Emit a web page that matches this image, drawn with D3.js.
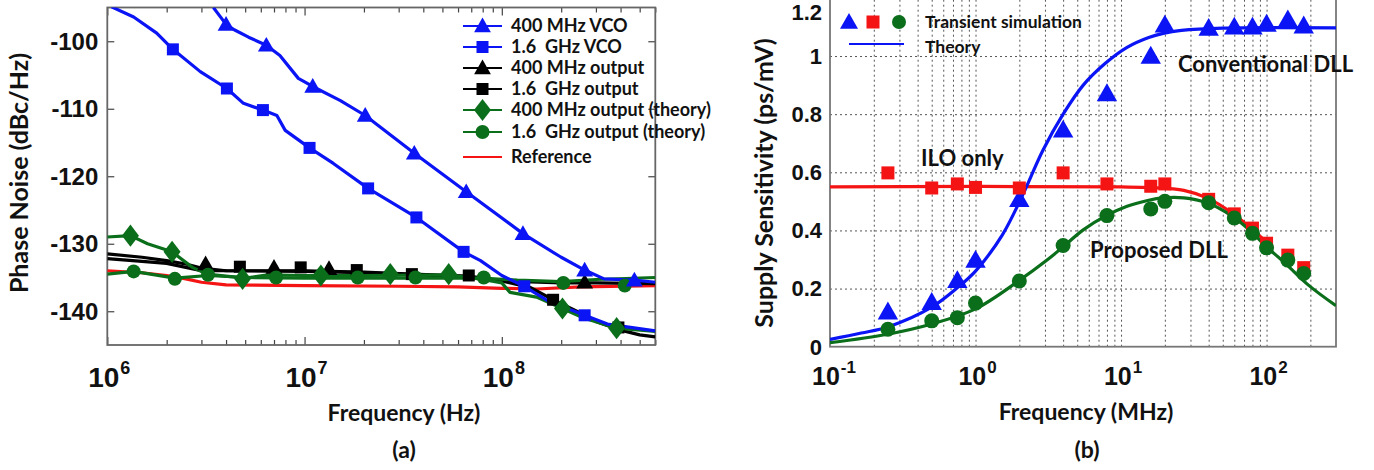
<!DOCTYPE html>
<html><head><meta charset="utf-8">
<script src="https://cdn.jsdelivr.net/npm/d3@7"></script>
<style>
html,body{margin:0;padding:0;background:#fff;}
svg{display:block;}
.lbl{font-family:Lato,"Open Sans",sans-serif;font-weight:bold;fill:#111;}
.tk{font-family:"Liberation Sans",Arial,sans-serif;font-weight:bold;fill:#111;}
</style></head>
<body>
<svg id="c" width="1374" height="470"></svg>
<script>
// ---------- Panel (a) data: phase noise (dBc/Hz) vs frequency (Hz) ----------
const vco400Line = [[3.45e6,-95],[4.0e6,-97.5],[4.4e6,-98.3],[5.2e6,-99.4],[6.4e6,-100.6],[7.5e6,-102.1],[9.3e6,-105.5],[1.1e7,-106.7],[1.52e7,-108.8],[2.03e7,-111.0],[3.6e7,-116.6],[6.6e7,-122.3],[1.28e8,-128.5],[2.0e8,-132.0],[2.63e8,-133.9],[3.3e8,-135.2],[4.7e8,-135.4],[6e8,-135.7]];
const vco400Marks = [[4.0e6,-97.5],[6.4e6,-100.6],[1.1e7,-106.7],[2.03e7,-111.0],[3.6e7,-116.6],[6.6e7,-122.3],[1.28e8,-128.5],[2.63e8,-133.9],[4.7e8,-135.4]];
const vco1600Line = [[1.05e6,-94.9],[1.36e6,-96.4],[1.78e6,-98.8],[2.15e6,-101.2],[2.96e6,-104.5],[4.04e6,-107.0],[4.9e6,-109.2],[6.15e6,-110.2],[7.24e6,-111.0],[7.98e6,-113.2],[1.06e7,-115.8],[1.4e7,-118.1],[2.1e7,-121.8],[3.69e7,-126.1],[6.4e7,-131.2],[7.8e7,-132.5],[1.0e8,-134.7],[1.3e8,-136.3],[1.7e8,-138.4],[2.63e8,-140.6],[3.43e8,-141.9],[6e8,-142.9]];
const vco1600Marks = [[2.15e6,-101.2],[4.04e6,-107.0],[6.15e6,-110.2],[1.06e7,-115.8],[2.1e7,-121.8],[3.69e7,-126.1],[6.4e7,-131.2],[1.3e8,-136.3],[2.63e8,-140.6]];
const out400Line = [[1e6,-131.5],[1.5e6,-132.0],[2e6,-132.5],[2.5e6,-133.0],[3e6,-133.6],[4e6,-134.0],[1e7,-134.1],[2e7,-134.3],[4e7,-134.6],[7e7,-135.0],[1e8,-135.5],[2e8,-135.8],[3e8,-135.8],[6e8,-135.9]];
const out400Marks = [[3.15e6,-133.0],[7.0e6,-133.5],[1.33e7,-133.7],[2.63e8,-135.7]];
const out1600Line = [[1e6,-132.2],[1.5e6,-132.6],[2e6,-132.9],[2.5e6,-133.5],[3e6,-134.0],[5e6,-134.0],[1e7,-134.0],[2e7,-134.2],[3.5e7,-134.5],[6.8e7,-134.8],[1e8,-135.5],[1.4e8,-136.5],[1.82e8,-138.3],[2.4e8,-140.0],[3e8,-141.5],[4e8,-142.8],[5e8,-143.5],[6e8,-143.8]];
const out1600Marks = [[4.7e6,-133.4],[9.56e6,-133.5],[1.84e7,-133.9],[3.5e7,-134.5],[6.8e7,-134.7],[1.82e8,-138.3],[3.9e8,-142.4]];
const th400Line = [[1e6,-129.0],[1.31e6,-128.8],[1.6e6,-130.0],[2.13e6,-131.2],[2.7e6,-133.5],[3.2e6,-134.5],[4e6,-134.8],[5e6,-135.1],[6.5e6,-134.6],[1e7,-134.7],[2e7,-134.7],[5.4e7,-134.6],[8e7,-135.3],[1.0e8,-135.8],[1.1e8,-137.2],[1.5e8,-137.9],[2.03e8,-139.6],[2.6e8,-141.0],[3.82e8,-142.5],[6e8,-143.0]];
const th400Marks = [[1.31e6,-128.8],[2.13e6,-131.2],[4.85e6,-135.2],[1.21e7,-134.7],[2.72e7,-134.5],[5.38e7,-134.5],[2.03e8,-139.6],[3.82e8,-142.5]];
const th1600Line = [[1e6,-134.5],[1.36e6,-134.1],[2.2e6,-135.1],[3.24e6,-134.7],[5e6,-135.0],[1e7,-135.1],[3e7,-135.1],[8e7,-135.1],[1.2e8,-135.4],[2e8,-135.6],[3e8,-135.3],[6e8,-135.0]];
const th1600Marks = [[1.36e6,-134.1],[2.2e6,-135.2],[3.24e6,-134.6],[7.17e6,-135.0],[1.86e7,-135.0],[3.65e7,-135.0],[8.1e7,-135.0],[2.05e8,-135.8],[4.2e8,-136.2]];
const refLine = [[1e6,-134.0],[1.5e6,-134.3],[2e6,-134.7],[2.5e6,-135.2],[3e6,-135.7],[4e6,-136.1],[1e7,-136.2],[3e7,-136.3],[6e7,-136.4],[1e8,-136.6],[1.5e8,-136.7],[2.5e8,-136.4],[6e8,-136.2]];
const aYTicks = [-100,-110,-120,-130,-140];
const aXTicks = [6,7,8];
const aLegend = ["400 MHz VCO","1.6\u00a0 GHz VCO","400 MHz output","1.6\u00a0 GHz output","400 MHz output (theory)","1.6\u00a0 GHz output (theory)","Reference"];

// ---------- Panel (b) data: supply sensitivity (ps/mV) vs frequency (MHz) ----------
const simFreq = [0.25,0.5,0.75,1,2,4,8,16,20,40,60,80,100,140,180];
const convSim = [0.12,0.153,0.228,0.298,0.507,0.746,0.871,1.0,1.107,1.096,1.10,1.10,1.11,1.125,1.104];
const iloSim  = [0.598,0.546,0.56,0.548,0.546,0.598,0.56,0.552,0.56,0.507,0.457,0.408,0.356,0.315,0.272];
const propSim = [0.06,0.089,0.10,0.15,0.226,0.348,0.451,0.474,0.50,0.495,0.443,0.39,0.34,0.298,0.252];
const convTheory = [[0.1,0.025],[0.164,0.047],[0.25,0.068],[0.5,0.136],[0.76,0.205],[1,0.26],[1.53,0.385],[2.1,0.52],[2.9,0.675],[4,0.80],[5.5,0.90],[7.8,0.975],[11,1.03],[15.5,1.064],[19.5,1.078],[26,1.088],[50,1.096],[300,1.097]];
const iloTheory = [[0.1,0.55],[10,0.55],[20,0.545],[27,0.538],[39,0.512],[58,0.46],[78,0.408],[100,0.36]];
const propTheory = [[0.1,0.014],[0.25,0.043],[0.5,0.078],[1,0.13],[2,0.228],[3.1,0.298],[3.9,0.339],[5.5,0.402],[7.8,0.449],[11,0.483],[15.5,0.504],[19.4,0.512],[27,0.512],[39,0.495],[58,0.449],[78,0.397],[97,0.35],[135,0.286],[195,0.211],[300,0.141]];
const bYTicks = [0,0.2,0.4,0.6,0.8,1,1.2];
const bXTicks = [-1,0,1,2];

const BLUE="#0a14f5", RED="#f51414", GREEN="#0b6e1a", BLACK="#000";
const svg = d3.select("#c");
const defs = svg.append("defs");

function marker(g, type, x, y, s, color){
  if(type==="tri"){
    g.append("path").attr("d",`M${x},${y-s*0.6}L${x+s*0.6},${y+s*0.45}L${x-s*0.6},${y+s*0.45}Z`).attr("fill",color);
  } else if(type==="sq"){
    g.append("rect").attr("x",x-s/2).attr("y",y-s/2).attr("width",s).attr("height",s).attr("fill",color);
  } else if(type==="dia"){
    g.append("path").attr("d",`M${x},${y-s*0.65}L${x+s*0.5},${y}L${x},${y+s*0.65}L${x-s*0.5},${y}Z`).attr("fill",color);
  } else {
    g.append("circle").attr("cx",x).attr("cy",y).attr("r",s/2).attr("fill",color);
  }
}

// ================= Panel (a) =================
{
  const L=107.3, R=655.3, T=7.5, B=345;
  const x = d3.scaleLog().domain([1e6,6e8]).range([L,R]);
  const y = d3.scaleLinear().domain([-145,-95]).range([B,T]);
  const g = svg.append("g");
  defs.append("clipPath").attr("id","clipA").append("rect").attr("x",L).attr("y",T).attr("width",R-L).attr("height",B-T);

  const minor = [];
  for(let e=6;e<=8;e++) for(let m=1;m<=9;m++){const v=m*Math.pow(10,e); if(v<=6e8) minor.push(v);}
  const axB = d3.axisBottom(x).tickValues(minor).tickFormat("").tickSizeOuter(0).tickSizeInner(-5);
  const axT = d3.axisTop(x).tickValues(minor).tickFormat("").tickSizeOuter(0).tickSizeInner(-5);
  const gb = g.append("g").attr("transform",`translate(0,${B})`).call(axB);
  const gt = g.append("g").attr("transform",`translate(0,${T})`).call(axT);
  [gb,gt].forEach(a=>{a.select(".domain").remove(); a.selectAll("line").attr("stroke","#444").attr("stroke-width",1.2);
    a.selectAll(".tick").filter(d=>Math.abs(Math.log10(d)-Math.round(Math.log10(d)))<1e-9).select("line").attr("y2",a===gb?-8:8);});
  const axL = d3.axisLeft(y).tickValues(aYTicks).tickFormat("").tickSizeOuter(0).tickSizeInner(-7);
  const axR = d3.axisRight(y).tickValues(aYTicks).tickFormat("").tickSizeOuter(0).tickSizeInner(-7);
  [g.append("g").attr("transform",`translate(${L},0)`).call(axL), g.append("g").attr("transform",`translate(${R},0)`).call(axR)]
    .forEach(a=>{a.select(".domain").remove(); a.selectAll("line").attr("stroke","#444").attr("stroke-width",1.2);});
  g.append("rect").attr("x",L).attr("y",T).attr("width",R-L).attr("height",B-T).attr("fill","none").attr("stroke","#666").attr("stroke-width",1.8);

  aYTicks.forEach(v=>{
    g.append("text").attr("class","tk").attr("x",L-9).attr("y",y(v)).attr("dy","0.36em").attr("text-anchor","end").attr("font-size",24).text(v);
  });
  aXTicks.forEach(e=>{
    const t = g.append("text").attr("class","tk").attr("x",x(Math.pow(10,e))+2).attr("y",387).attr("text-anchor","middle").attr("font-size",28);
    t.append("tspan").text("10");
    t.append("tspan").attr("font-size",18).attr("dy",-13).attr("dx",1).text(e);
  });

  const line = d3.line().x(d=>x(d[0])).y(d=>y(d[1]));
  const lg = g.append("g").attr("clip-path","url(#clipA)");
  const series = [
    {l:refLine, m:[], c:RED, t:null, s:0},
    {l:out400Line, m:out400Marks, c:BLACK, t:"tri", s:14},
    {l:out1600Line, m:out1600Marks, c:BLACK, t:"sq", s:12},
    {l:th1600Line, m:th1600Marks, c:GREEN, t:"circ", s:14},
    {l:th400Line, m:th400Marks, c:GREEN, t:"dia", s:17},
    {l:vco400Line, m:vco400Marks, c:BLUE, t:"tri", s:14},
    {l:vco1600Line, m:vco1600Marks, c:BLUE, t:"sq", s:12},
  ];
  series.forEach(s=>{
    lg.append("path").datum(s.l).attr("d",line).attr("fill","none").attr("stroke",s.c).attr("stroke-width",3.2).attr("stroke-linejoin","round");
  });
  series.forEach(s=>{ s.m.forEach(p=>marker(lg,s.t,x(p[0]),y(p[1]),s.s,s.c)); });

  const leg = [
    {c:BLUE,t:"tri",s:14},{c:BLUE,t:"sq",s:12},{c:BLACK,t:"tri",s:14},{c:BLACK,t:"sq",s:12},
    {c:GREEN,t:"dia",s:17},{c:GREEN,t:"circ",s:14},{c:RED,t:null,s:0}];
  const rows = [26,47,68,89,110,132,157];
  leg.forEach((d,i)=>{
    const yy = rows[i];
    g.append("line").attr("x1",463).attr("x2",502).attr("y1",yy).attr("y2",yy).attr("stroke",d.c).attr("stroke-width",d.t?1.8:2);
    if(d.t) marker(g,d.t,482.5,yy,d.s,d.c);
    g.append("text").attr("class","lbl").attr("x",511).attr("y",yy).attr("dy","0.35em").attr("font-size",18).text(aLegend[i]);
  });

  g.append("text").attr("class","lbl").attr("x",404).attr("y",421).attr("text-anchor","middle").attr("font-size",23).text("Frequency (Hz)");
  g.append("text").attr("class","lbl").attr("x",404).attr("y",458).attr("text-anchor","middle").attr("font-size",23).text("(a)");
  g.append("text").attr("class","lbl").attr("transform",`translate(28,173) rotate(-90)`).attr("text-anchor","middle").attr("font-size",25).text("Phase Noise (dBc/Hz)");
}

// ================= Panel (b) =================
{
  const L=830, R=1336, B=346.7;
  const x = d3.scaleLog().domain([0.1,300]).range([L,R]);
  const y = d3.scaleLinear().domain([0,1.2]).range([B,-2.1]);
  const T = y(1.2);
  const g = svg.append("g");
  defs.append("clipPath").attr("id","clipB").append("rect").attr("x",L).attr("y",T).attr("width",R-L).attr("height",B-T);

  const gx = [];
  for(let e=-1;e<=2;e++) for(let m=1;m<=9;m++){const v=m*Math.pow(10,e); if(v>0.1 && v<300) gx.push(v);}
  const gridX = d3.axisBottom(x).tickValues(gx).tickFormat("").tickSize(-(B-T)).tickSizeOuter(0);
  const gridY = d3.axisLeft(y).tickValues(bYTicks.filter(v=>v>0&&v<1.2)).tickFormat("").tickSize(-(R-L)).tickSizeOuter(0);
  const a1 = g.append("g").attr("transform",`translate(0,${B})`).call(gridX);
  const a2 = g.append("g").attr("transform",`translate(${L},0)`).call(gridY);
  [a1,a2].forEach(a=>{a.select(".domain").remove(); a.selectAll("line").attr("stroke","#555").attr("stroke-width",1).attr("stroke-dasharray","2,3");});
  g.append("rect").attr("x",L).attr("y",T).attr("width",R-L).attr("height",B-T).attr("fill","none").attr("stroke","#777").attr("stroke-width",1.8);

  bYTicks.forEach(v=>{
    const yy = Math.max(y(v), 12);
    g.append("text").attr("class","tk").attr("x",L-8).attr("y",yy).attr("dy","0.36em").attr("text-anchor","end").attr("font-size",22).text(v);
  });
  bXTicks.forEach(e=>{
    const t = g.append("text").attr("class","tk").attr("x",x(Math.pow(10,e))+(e<0?4:2)).attr("y",385).attr("text-anchor","middle").attr("font-size",25);
    t.append("tspan").text("10");
    t.append("tspan").attr("font-size",17).attr("dy",-12).attr("dx",1).text(e);
  });

  const line = d3.line().x(d=>x(d[0])).y(d=>y(d[1])).curve(d3.curveCatmullRom.alpha(0.5));
  const lg = g.append("g").attr("clip-path","url(#clipB)");
  lg.append("path").datum(iloTheory).attr("d",line).attr("fill","none").attr("stroke",RED).attr("stroke-width",3.2);
  lg.append("path").datum(propTheory).attr("d",line).attr("fill","none").attr("stroke",GREEN).attr("stroke-width",3.2);
  lg.append("path").datum(convTheory).attr("d",line).attr("fill","none").attr("stroke",BLUE).attr("stroke-width",3.2);

  simFreq.forEach((f,i)=>marker(lg,"tri",x(f),y(convSim[i]),17,BLUE));
  simFreq.forEach((f,i)=>marker(lg,"sq",x(f),y(iloSim[i]),13,RED));
  simFreq.forEach((f,i)=>marker(lg,"circ",x(f),y(propSim[i]),15,GREEN));

  marker(g,"tri",849,22,15,BLUE);
  marker(g,"sq",873,22,13,RED);
  marker(g,"circ",899,22,14,GREEN);
  g.append("text").attr("class","lbl").attr("x",925).attr("y",22).attr("dy","0.35em").attr("font-size",17.5).text("Transient simulation");
  g.append("line").attr("x1",849).attr("x2",904).attr("y1",44).attr("y2",44).attr("stroke",BLUE).attr("stroke-width",2);
  g.append("text").attr("class","lbl").attr("x",925).attr("y",47).attr("dy","0.35em").attr("font-size",17.5).text("Theory");

  g.append("text").attr("class","lbl").attr("x",1178).attr("y",64).attr("dy","0.35em").attr("font-size",22).text("Conventional DLL");
  g.append("text").attr("class","lbl").attr("x",921).attr("y",158).attr("dy","0.35em").attr("font-size",22).text("ILO only");
  g.append("text").attr("class","lbl").attr("x",1090).attr("y",250).attr("dy","0.35em").attr("font-size",22).text("Proposed DLL");

  g.append("text").attr("class","lbl").attr("x",1086).attr("y",420).attr("text-anchor","middle").attr("font-size",23).text("Frequency (MHz)");
  g.append("text").attr("class","lbl").attr("x",1087).attr("y",458).attr("text-anchor","middle").attr("font-size",23).text("(b)");
  g.append("text").attr("class","lbl").attr("transform",`translate(773,183) rotate(-90)`).attr("text-anchor","middle").attr("font-size",25).text("Supply Sensitivity (ps/mV)");
}
</script>
</body></html>
